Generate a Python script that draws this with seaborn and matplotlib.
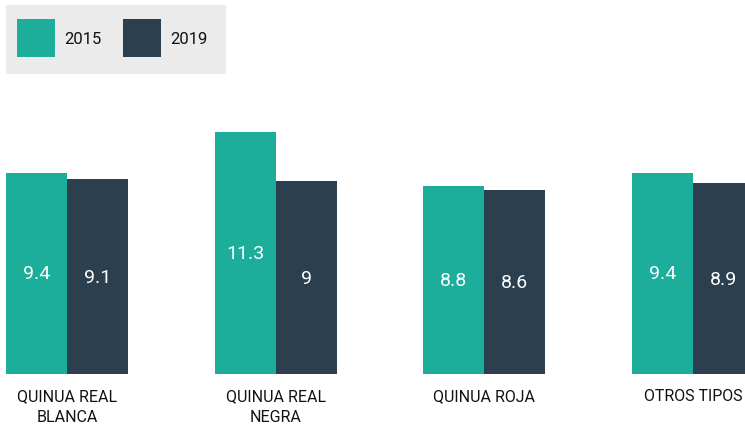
import pandas as pd
import matplotlib.pyplot as plt
import seaborn as sns
from matplotlib.patches import Rectangle

categories = ["QUINUA REAL\nBLANCA", "QUINUA REAL\nNEGRA", "QUINUA ROJA", "OTROS TIPOS"]
years = ["2015", "2019"]
values_2015 = [9.4, 11.3, 8.8, 9.4]
values_2019 = [9.1, 9.0, 8.6, 8.9]
labels_2015 = ["9.4", "11.3", "8.8", "9.4"]
labels_2019 = ["9.1", "9", "8.6", "8.9"]
colors = ["#1dad9b", "#2c3f4e"]

df = pd.DataFrame({
    "cat": categories * 2,
    "year": [years[0]] * 4 + [years[1]] * 4,
    "value": values_2015 + values_2019,
})

sns.set_style("white")
plt.rcParams["font.family"] = ["Roboto", "DejaVu Sans"]

W, H = 745, 427
fig = plt.figure(figsize=(W / 100, H / 100), dpi=100)
ax = fig.add_axes([0, 52 / H, 1, 257 / H])
ax.patch.set_alpha(0)

sns.barplot(data=df, x="cat", y="value", hue="year", palette=colors,
            width=0.585, saturation=1, linewidth=0, ax=ax, legend=True)

ax.set_xlim(-0.321, 3.249)
ax.set_ylim(0, 12)
ax.set_xlabel("")
ax.set_ylabel("")
ax.set_yticks([])
ax.tick_params(axis="x", length=0, labelsize=11.5, pad=10, colors="#111111")
for t in ax.get_xticklabels():
    t.set_linespacing(1.55)
for s in ax.spines.values():
    s.set_visible(False)

# numbers in the middle of each bar
for cont, labs in zip(ax.containers, [labels_2015, labels_2019]):
    for bar, lab in zip(cont, labs):
        ax.text(bar.get_x() + bar.get_width() / 2, bar.get_height() / 2, lab,
                ha="center", va="center", color="white", fontsize=14)

# grey legend panel
fig.add_artist(Rectangle((6 / W, 1 - 75 / H), 220 / W, 69 / H,
                         transform=fig.transFigure, facecolor="#ebebeb",
                         edgecolor="none", zorder=0))
leg = ax.legend(ncol=2, loc="upper left", bbox_to_anchor=(17 / W, 1 - 20 / H),
                bbox_transform=fig.transFigure, frameon=False, fontsize=12,
                handlelength=2.3, handleheight=3.1, handletextpad=0.55,
                columnspacing=1.25, borderpad=0, borderaxespad=0)
for t in leg.get_texts():
    t.set_color("#111111")

fig.savefig("out.png", dpi=100)
